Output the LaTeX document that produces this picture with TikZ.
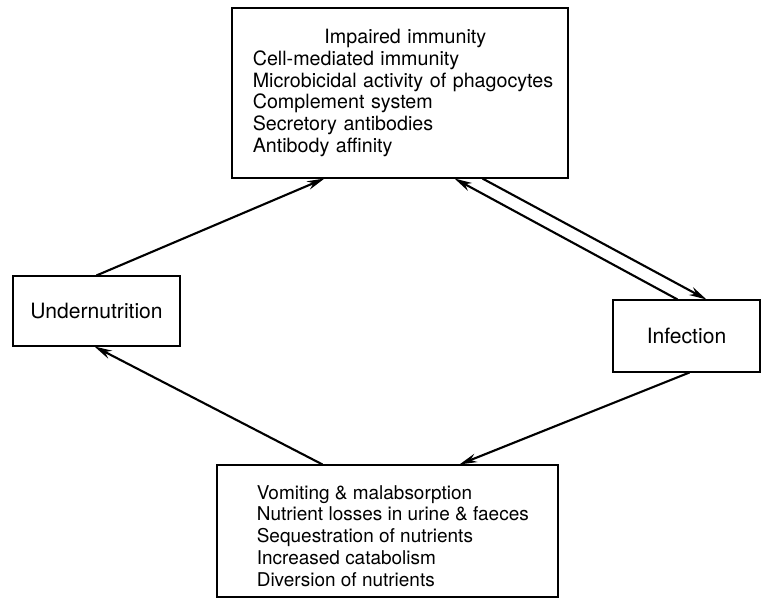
\documentclass[tikz,border=0pt]{standalone}
\usepackage{fontspec}
\setmainfont{TeX Gyre Heros}
\usepackage{tikz}
\usetikzlibrary{arrows.meta}

\tikzset{
  box/.style={draw, line width=0.6pt, inner sep=0pt},
  label/.style={font=\fontsize{12}{14}\selectfont},
  list/.style={align=left, inner sep=0pt, font=\fontsize{11.2}{12.4}\selectfont},
  link/.style={line width=1.2pt, -{Stealth[length=10pt,width=5pt]}}
}

\begin{document}
\begin{tikzpicture}
	\useasboundingbox (0,0) rectangle (15.3,12.1);
	% Impaired immunity
	\node[box, minimum width=6.72cm, minimum height=3.4cm] (immunity) at (8.0,10.24) {};
	\node[list, text width=6.1cm, anchor=west] at ([xshift=0.42cm]immunity.west) {%
		\centerline{Impaired immunity}
		Cell-mediated immunity\\
		Microbicidal activity of phagocytes\\
		Complement system\\
		Secretory antibodies\\
		Antibody affinity};
	% Undernutrition
	\node[box, label, minimum width=3.34cm, minimum height=1.4cm] (undernut) at (1.93,5.88) {Undernutrition};
	% Infection
	\node[box, label, minimum width=2.94cm, minimum height=1.44cm] (infection) at (13.73,5.38) {Infection};
	% Nutrient losses
	\node[box, minimum width=6.82cm, minimum height=2.64cm] (losses) at (7.75,1.48) {};
	\node[list, font=\fontsize{10.8}{12.4}\selectfont, anchor=west] at ([xshift=0.8cm,yshift=-0.1cm]losses.west) {%
		Vomiting \& malabsorption\\
		Nutrient losses in urine \& faeces\\
		Sequestration of nutrients\\
		Increased catabolism\\
		Diversion of nutrients};
	% Arrows round the cycle
	\draw[link] ([xshift=1.68cm]undernut.north west) -- ([xshift=1.86cm]immunity.south west);
	\draw[link] ([xshift=5.02cm]immunity.south west) -- ([xshift=1.88cm]infection.north west);
	\draw[link] ([xshift=1.3cm]infection.north west) -- ([xshift=4.46cm]immunity.south west);
	\draw[link] ([xshift=1.54cm]infection.south west) -- ([xshift=4.86cm]losses.north west);
	\draw[link] ([xshift=2.12cm]losses.north west) -- ([xshift=1.64cm]undernut.south west);
\end{tikzpicture}
\end{document}
